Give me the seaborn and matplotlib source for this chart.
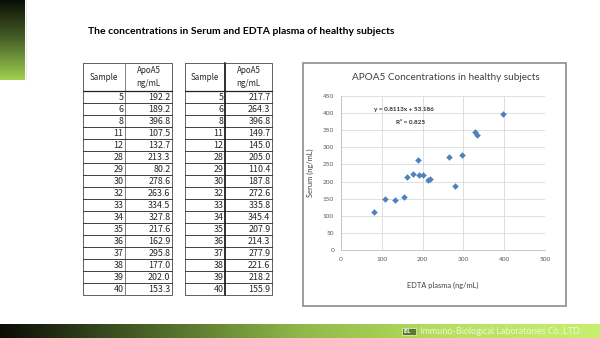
import numpy as np
import pandas as pd
import matplotlib
matplotlib.use("Agg")
import matplotlib.pyplot as plt
from matplotlib.colors import LinearSegmentedColormap
import seaborn as sns

# ---------------- data ----------------
samples = [5, 6, 8, 11, 12, 28, 29, 30, 32, 33, 34, 35, 36, 37, 38, 39, 40]
edta_plasma = [192.2, 189.2, 396.8, 107.5, 132.7, 213.3, 80.2, 278.6, 263.6,
               334.5, 327.8, 217.6, 162.9, 295.8, 177.0, 202.0, 153.3]
serum = [217.7, 264.3, 396.8, 149.7, 145.0, 205.0, 110.4, 187.8, 272.6,
         335.8, 345.4, 207.9, 214.3, 277.9, 221.6, 218.2, 155.9]
x_ticks = [0, 100, 200, 300, 400, 500]
y_ticks = [0, 50, 100, 150, 200, 250, 300, 350, 400, 450]

page_title = "The concentrations in Serum and EDTA plasma of healthy subjects"
chart_title = "APOA5 Concentrations in healthy subjects"
x_label = "EDTA plasma (ng/mL)"
y_label = "Serum (ng/mL)"
eq_text = "y = 0.8113x + 53.186"
r2_text = "R² = 0.825"
company = "Immuno-Biological Laboratories Co.,LTD."

df = pd.DataFrame({"sample": samples, "edta": edta_plasma, "serum": serum})

# ---------------- figure ----------------
sns.set_theme(style="white")
plt.rcParams["font.family"] = ["Lato", "DejaVu Sans"]
W, H = 600, 338
fig = plt.figure(figsize=(W / 100, H / 100), dpi=100)
fig.patch.set_facecolor("white")

ov = fig.add_axes([0, 0, 1, 1])
ov.set_xlim(0, W)
ov.set_ylim(H, 0)
ov.axis("off")

# left vertical gradient bar
cm_left = LinearSegmentedColormap.from_list("lg", ["#0a0d06", "#4a6428", "#a0d050"])
grad_v = np.linspace(0, 1, 256).reshape(-1, 1)
ov.imshow(grad_v, cmap=cm_left, aspect="auto", extent=(0, 25, 80, 0), zorder=1)
ov.plot([26, 26], [0, 80], color="#e8e8e8", lw=0.8, zorder=1)

# bottom horizontal gradient bar
cm_bot = LinearSegmentedColormap.from_list(
    "bg", ["#0a0c06", "#4a6428", "#90b848", "#b8e060", "#c8f070"])
grad_h = np.linspace(0, 1, 512).reshape(1, -1)
ov.imshow(grad_h, cmap=cm_bot, aspect="auto", extent=(0, W, H, 324), zorder=1)
ov.add_patch(plt.Rectangle((402, 327.5), 14, 7, facecolor="#5a7a2a",
                           edgecolor="#eef6d8", lw=0.5, zorder=2))
ov.text(403.5, 331.2, "IBL", fontsize=3.8, color="white", fontweight="bold",
        va="center", ha="left", zorder=3)
ov.text(420, 331, company, fontsize=6.5, color="#eef6d8", va="center", ha="left", zorder=3)

# page title
ov.text(88, 31, page_title, fontsize=7.5, fontweight="bold", color="black",
        va="center", ha="left")

# ---------------- tables ----------------
tfont = ["Noto Sans CJK JP", "DejaVu Sans"]
top, head_bot = 63, 91
row_h = 12.0
n = len(samples)
bottom = head_bot + n * row_h


def draw_table(x0, xdiv, x1, values, thick_div):
    ec = "#606060"
    ov.plot([x0, x1, x1, x0, x0], [top, top, bottom, bottom, top], color=ec, lw=0.7, zorder=3)
    ov.plot([xdiv, xdiv], [top, bottom], color="#303030" if thick_div else "#808080",
            lw=1.4 if thick_div else 0.7, zorder=3)
    ov.plot([x0, x1], [head_bot, head_bot], color="#202020", lw=0.9, zorder=3)
    for i in range(1, n):
        yy = head_bot + i * row_h
        ov.plot([x0, x1], [yy, yy], color="#202020", lw=0.6, zorder=3)
    ov.text((x0 + xdiv) / 2, (top + head_bot) / 2, "Sample", fontsize=5.8,
            family=tfont, ha="center", va="center")
    ov.text((xdiv + x1) / 2, 70.5, "ApoA5", fontsize=5.8, family=tfont, ha="center", va="center")
    ov.text((xdiv + x1) / 2, 83, "ng/mL", fontsize=5.8, family=tfont, ha="center", va="center")
    for i, (s, v) in enumerate(zip(samples, values)):
        yc = head_bot + (i + 0.5) * row_h
        ov.text(xdiv - 1.5, yc, f"{s}", fontsize=6.4, family=tfont, ha="right", va="center")
        ov.text(x1 - 1.5, yc, f"{v:.1f}", fontsize=6.4, family=tfont, ha="right", va="center")


draw_table(83, 125, 172, edta_plasma, False)
draw_table(185, 225, 272, serum, True)

# chart frame
ov.add_patch(plt.Rectangle((303, 63), 263, 243, facecolor="white", edgecolor="#8c8c8c",
                           lw=1.2, zorder=2))
ov.text(446, 78, chart_title, fontsize=7.2, color="#404040", ha="center", va="center", zorder=4)

# ---------------- scatter chart ----------------
ax = fig.add_axes([341 / W, 1 - 250 / H, 204 / W, 154 / H], zorder=5)
ax.set_facecolor("none")
sns.scatterplot(data=df, x="edta", y="serum", ax=ax, marker="D", s=9,
                color="#4F81BD", edgecolor="#4F81BD", linewidth=0.3, zorder=3)
ax.set_xlim(0, 500)
ax.set_ylim(0, 450)
ax.set_xticks(x_ticks)
ax.set_yticks(y_ticks)
ax.grid(True, color="#d9d9d9", lw=0.6)
for side in ["top", "right"]:
    ax.spines[side].set_visible(False)
for side in ["left", "bottom"]:
    ax.spines[side].set_color("#bfbfbf")
    ax.spines[side].set_linewidth(0.6)
ax.tick_params(axis="both", labelsize=4.6, colors="#595959", length=0, pad=5)
ax.set_xlabel(x_label, fontsize=5.4, color="#404040", labelpad=14)
ax.set_ylabel(y_label, fontsize=5.4, color="#404040", labelpad=6)
ax.text(0.31, 0.91, eq_text, transform=ax.transAxes, fontsize=4.6, fontweight="bold",
        color="#303030", ha="center", va="center")
ax.text(0.34, 0.83, r2_text, transform=ax.transAxes, fontsize=4.6, fontweight="bold",
        color="#303030", ha="center", va="center")

fig.savefig("out.png", dpi=100, facecolor="white")
